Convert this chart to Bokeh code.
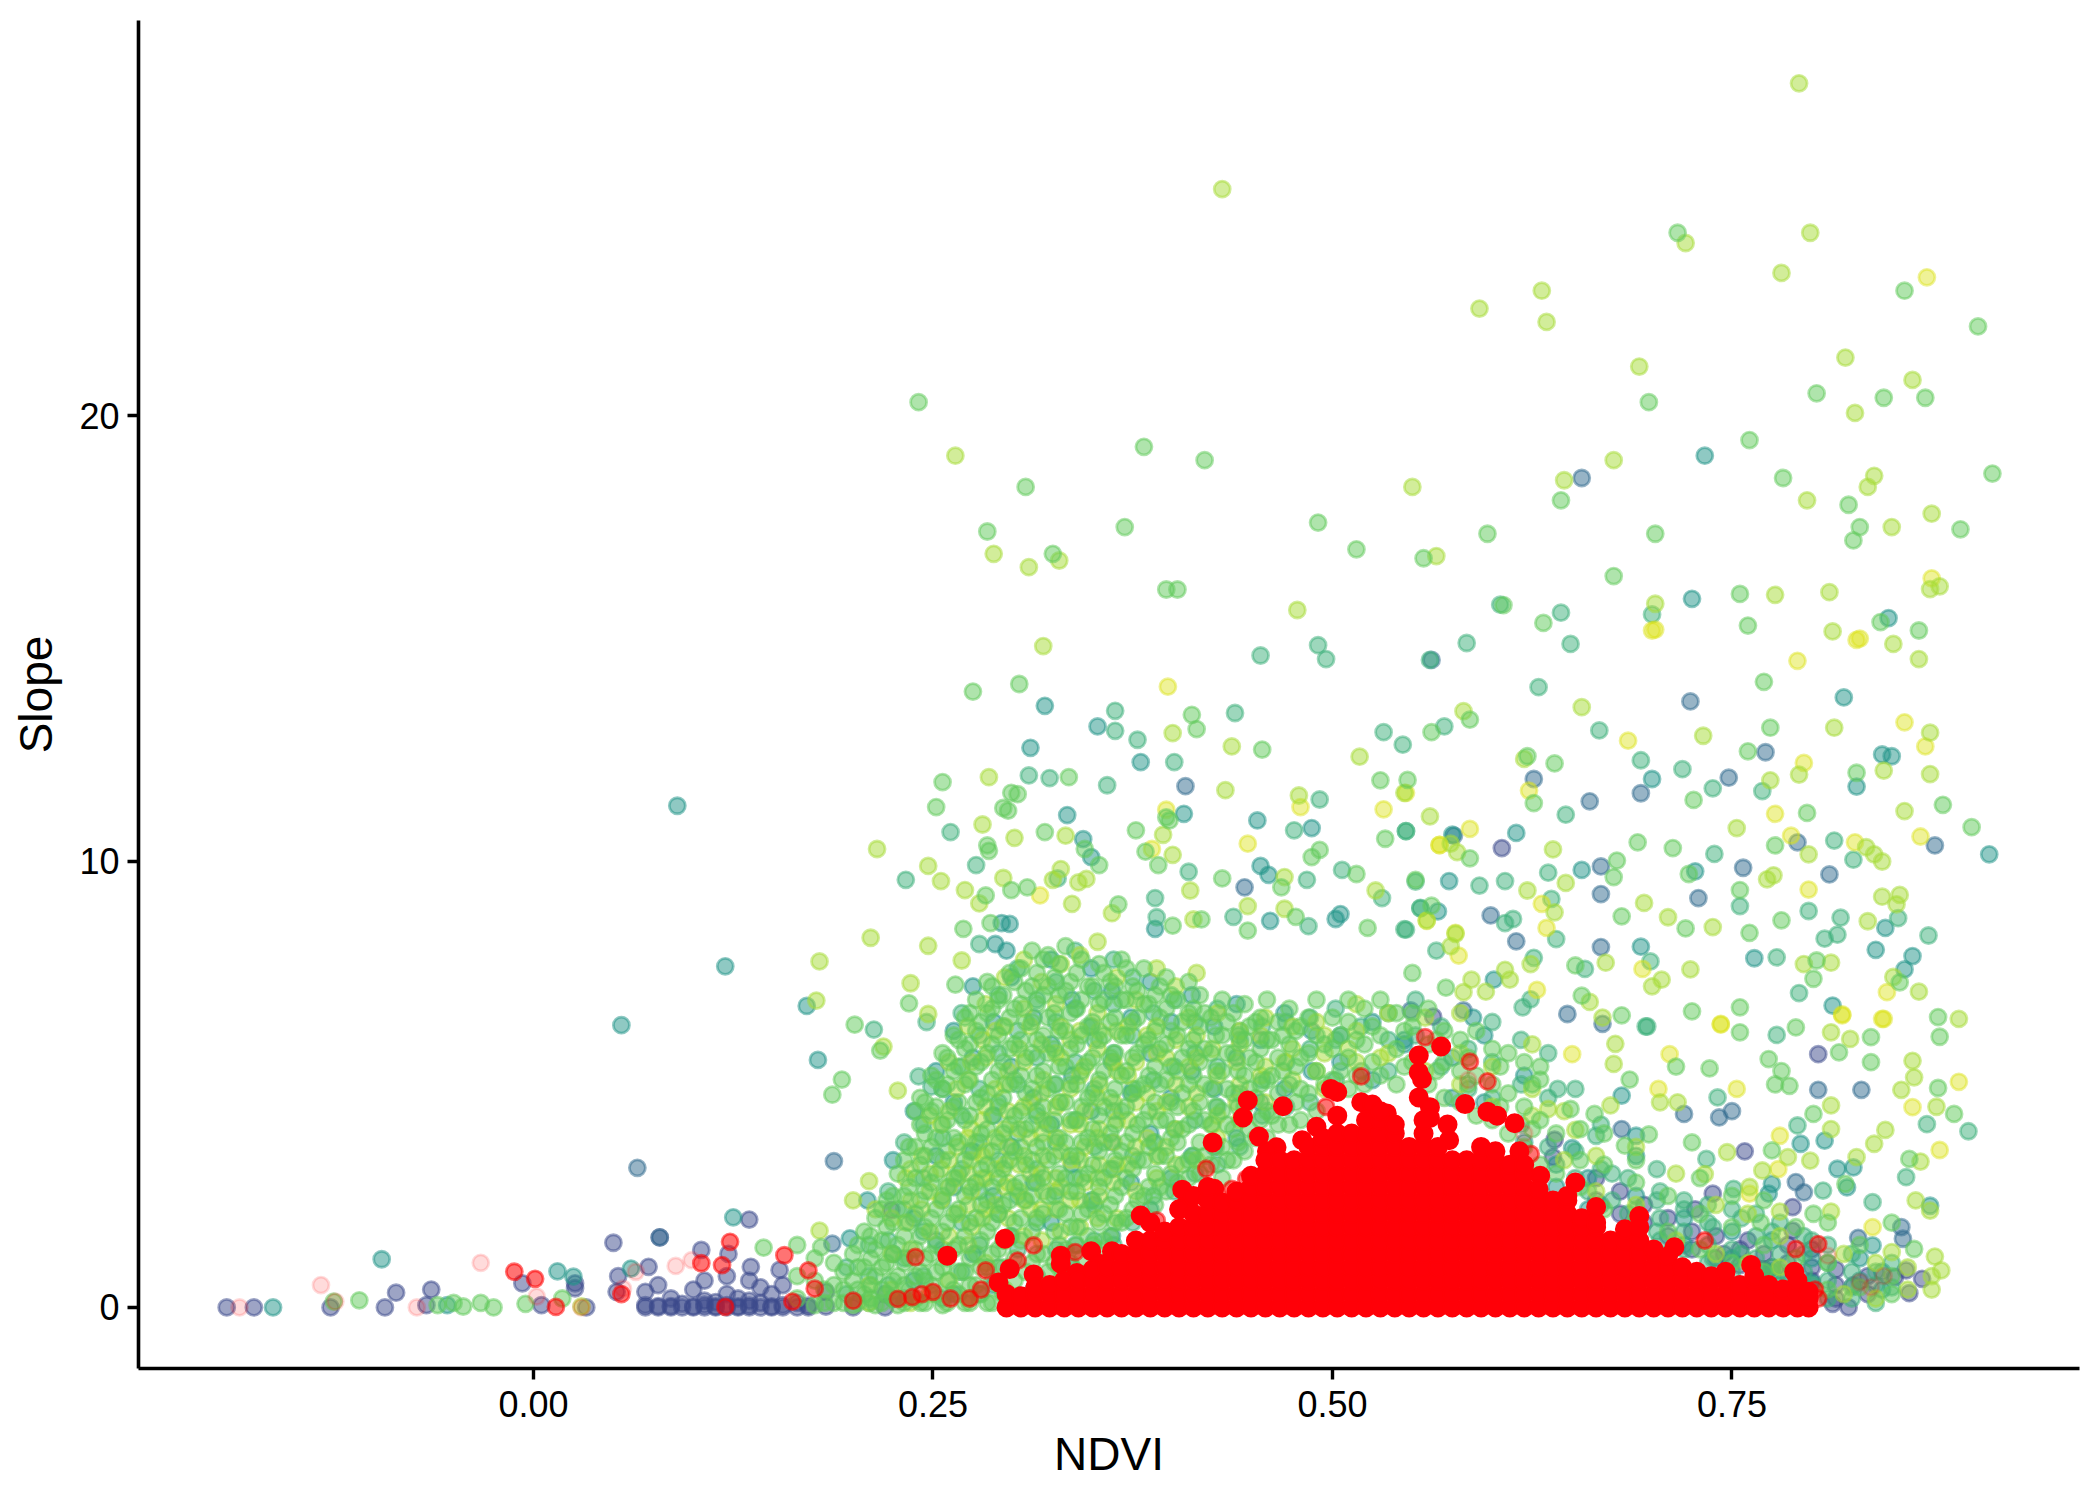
from bokeh.plotting import figure
from bokeh.models import FixedTicker, Range1d
from bokeh.embed import file_html
from bokeh.resources import INLINE

x_tick_values = [0.0, 0.25, 0.5, 0.75]
x_tick_labels = ["0.00", "0.25", "0.50", "0.75"]
y_tick_values = [0, 10, 20]
y_tick_labels = ["0", "10", "20"]

navy_points = [(-.192,0),(-.175,0),(-.127,0),(-.093,0),(-.086,.33),(-.067,.05),(-.064,.4),(-.007,.54),(.005,.05),
(.026,.54),(.026,.43),(.033,0),(.052,.35),(.053,.7),(.05,1.45),(.072,.91),(.079,1.57),(.105,1.29),(.122,1.2),(.135,1.97),(.136,.91),(.154,.84),(.224,2.18),
(.606,10.3),(.563,6.52),(.639,3.76),(.638,3.37),(.758,3.5),(.804,5.68),(.788,2.25),(.738,2.55),(.727,2.2),(.788,1.72),
(.869,.64),(.859,.83),(.852,.68),(.861,.32),(.823,0),(.813,.08),(.826,.5),(.76,1.5),(.775,.9),(.745,1.2)]
slate_points = [(.065,3.13),(.079,1.57),(.188,3.28),(.187,1.43),(.656,18.6),(.408,11.69),(.445,9.42),(.562,14.52),(.724,13.59),(.771,12.45),(.693,11.53),(.748,11.88),
(.661,11.35),(.791,10.43),(.877,10.36),(.668,9.89),(.668,9.27),(.757,9.86),(.811,9.71),(.729,9.18),(.599,8.79),(.615,8.21),(.668,8.08),(.549,6.66),(.582,6.66),(.669,6.36),(.647,6.58),(.576,10.58),(.626,11.85),
(.804,4.88),(.72,4.34),(.742,4.26),(.75,4.4),(.831,4.88),(.681,4.0),(.79,2.81),(.795,2.58),(.856,1.8),(.857,1.54),(.829,1.56)]
teal_points = [(-.163,0),(-.095,1.08),(-.054,.05),(.015,.81),(.025,.69),(.061,.87),(.125,2.02),(.198,1.55),(.09,11.25),(.12,7.65),(.055,6.33),(.209,2.4),(.178,5.55),(.171,6.76),
(.733,19.1),(.32,13.49),(.353,13.03),(.311,12.55),(.38,12.23),(.334,11.04),(.407,11.07),(.453,10.92),(.344,10.5),(.487,10.75),(.575,10.6),(.349,10.1),(.455,9.9),(.46,9.7),(.505,8.82),(.502,8.71),(.461,8.67),(.389,8.49),(.296,8.0),(.289,8.15),(.298,8.6),(.293,8.62),
(.725,15.89),(.848,15.46),(.82,13.68),(.844,12.4),(.85,12.36),(.7,11.85),(.828,11.68),(.615,10.64),(.911,10.16),(.573,9.56),(.656,9.81),(.727,9.78),(.566,8.88),(.846,8.51),(.693,8.09),(.764,7.83),(.84,8.02),(.863,7.88),(.858,7.58),(.813,6.77),(.601,7.35),(.588,6.5),(.681,4.75),(.69,3.85),(.69,3.4),(.65,3.57),(.808,3.74),(.793,3.67),(.775,2.77),(.773,2.55),(.816,3.11),(.826,3.14),(.822,2.69),(.874,2.28),(.838,1.39)]
sea_points = [(.491,14.85),(.496,14.54),(.455,14.62),(.561,14.52),(.605,15.76),(.643,15.58),(.584,14.9),(.649,14.88),(.7,15.54),(.629,13.91),(.364,13.38),(.364,12.93),(.439,13.33),(.378,12.73),(.532,12.9),(.544,12.62),(.57,13.03),(.401,12.23),(.31,11.93),(.323,11.87),(.359,11.71),(.492,11.39),(.261,10.66),(.476,10.7),(.546,10.68),(.277,9.92),(.328,9.62),(.41,9.77),(.484,9.59),(.506,9.81),(.233,9.59),(.531,9.18),(.555,8.96),(.389,9.18),(.39,8.75),(.279,8.15),(.438,8.76),(.485,8.55),(.545,8.48),(.213,6.23),(.241,5.18),(.249,4.95),(.246,6.4),
(.667,12.94),(.693,12.27),(.719,12.07),(.769,11.58),(.738,11.64),(.646,11.05),(.546,10.68),(.739,10.17),(.814,10.47),(.826,10.04),(.635,9.75),(.552,9.55),(.592,9.46),(.608,9.56),(.755,9.0),(.637,9.16),(.798,8.89),(.818,8.74),(.854,8.73),(.816,8.36),(.808,8.27),(.873,8.34),(.613,8.71),(.608,8.62),(.555,8.95),(.546,8.47),(.64,8.26),(.565,8.0),(.699,7.76),(.778,7.85),(.658,7.59),(.626,7.84),(.792,7.05),(.624,6.91),(.619,6.73),(.697,6.3),
(.778,6.11),(.696,6.3),(.641,4.9),(.741,4.71),(.791,4.08),(.872,4.11),(.898,3.95),(.665,3.85),(.734,3.33),(.859,2.92),(.751,2.66),(.807,2.62),(.838,2.36)]
green_points = [(.241,20.3),(.42,19.0),(.382,19.3),(.308,18.4),(.284,17.4),(.491,17.6),(.37,17.5),(.325,16.9),(.515,17.0),(.557,16.8),(.597,17.35),(.702,17.35),(.676,16.4),(.396,16.1),(.403,16.1),
(.761,19.45),(.826,17.2),(.83,17.5),(.823,18.0),(.643,18.1),(.782,18.6),(.913,18.7),(.698,20.3),(.845,20.4),(.803,20.5),(.871,20.4),(.904,22.0),(.858,22.8),(.716,24.1),(.893,17.45),(.607,15.75),(.755,16.0),
(.304,13.98),(.275,13.81),(.412,13.29),(.415,12.97),(.456,12.51),(.299,11.54),(.303,11.51),(.256,11.78),(.335,11.89),(.53,11.82),(.252,11.22),(.294,11.2),(.297,11.14),(.396,10.99),(.398,10.92),(.32,10.66),(.377,10.7),(.533,10.51),(.284,10.36),(.285,10.24),(.345,10.28),(.354,9.92),(.383,10.22),(.391,9.92),(.492,10.26),(.487,10.1),(.309,9.42),(.299,9.36),(.283,9.24),(.431,9.62),(.468,9.42),(.515,9.72),(.552,9.59),(.269,8.49),(.286,8.62),(.366,9.04),(.4,8.56),(.418,8.7),(.477,8.76),(.447,8.45),(.522,8.51),(.235,6.82),(.264,7.24),(.201,6.34),(.217,5.76),(.193,5.11),(.187,4.77),
(.632,15.35),(.76,15.29),(.77,14.03),(.867,15.18),(.843,15.37),(.562,12.9),(.586,13.18),(.774,13.0),(.622,12.36),(.639,12.2),(.76,12.47),(.828,11.99),(.547,11.83),(.626,11.31),(.726,11.38),(.797,11.09),(.882,11.27),(.9,10.77),(.586,10.07),(.691,10.43),(.713,10.3),(.777,10.36),(.678,10.02),(.676,9.65),(.723,9.72),(.755,9.36),(.681,8.77),(.721,8.5),(.562,9.01),(.781,8.68),(.761,8.4),(.652,7.67),(.55,7.5),(.571,7.17),(.803,7.78),(.801,7.37),(.855,7.29),(.656,6.99),(.681,6.55),(.725,6.64),(.755,6.73),(.879,6.51),
(.755,6.17),(.79,6.28),(.88,6.07),(.837,6.06),(.817,5.72),(.837,5.5),(.715,5.4),(.736,5.36),(.63,5.11),(.686,5.11),(.781,5.3),(.773,5.57),(.879,4.92),(.777,5.0),(.786,4.97),(.664,4.34),(.801,4.34),(.889,4.34),(.649,4.45),(.698,3.88),(.725,3.7),(.775,3.52),(.683,3.63),(.861,3.33),(.821,2.77),(.864,1.31),(.801,2.1),(.768,1.9),(.85,1.9),
(-.125,.13),(-.109,.16),(-.06,.05),(-.05,.1),(-.044,.02),(-.033,.1),(-.025,0),(-.005,.08),(.018,.2),(.144,1.34),(.165,1.4),(.18,1.35)]
lime_points = [(.792,27.45),(.431,25.08),(.799,24.1),(.721,23.87),(.781,23.2),(.631,22.8),(.592,22.4),(.634,22.1),(.821,21.3),(.692,21.1),(.863,20.8),(.827,20.06),(.264,19.1),(.676,19.0),(.645,18.55),(.839,18.65),(.835,18.4),(.55,18.4),(.797,18.1),(.85,17.5),(.875,17.8),(.288,16.9),(.329,16.75),(.31,16.6),(.565,16.85),
(.319,14.83),(.478,15.64),(.4,12.88),(.437,12.58),(.517,12.35),(.285,11.89),(.433,11.6),(.545,11.54),(.479,11.48),(.281,10.83),(.301,10.53),(.333,10.58),(.394,10.6),(.215,10.28),(.4,10.15),(.247,9.9),(.33,9.83),(.325,9.59),(.341,9.53),(.346,9.61),(.255,9.56),(.294,9.63),(.27,9.36),(.279,9.06),(.411,9.35),(.47,9.65),(.527,9.35),(.447,9.0),(.362,8.84),(.413,8.7),(.47,8.94),(.337,9.05),(.211,8.29),(.247,8.11),(.179,7.76),(.268,7.78),(.236,7.27),(.177,6.88),(.247,6.58),(.219,5.85),(.228,4.86),
(.702,15.78),(.777,15.98),(.811,16.04),(.874,16.11),(.88,16.17),(.813,15.16),(.851,14.88),(.867,14.54),(.656,13.46),(.582,13.37),(.732,12.82),(.814,13.0),(.874,12.89),(.62,12.3),(.792,11.95),(.774,11.82),(.845,12.04),(.874,11.96),(.561,11.01),(.753,10.75),(.858,11.13),(.574,10.4),(.578,10.21),(.638,10.27),(.798,10.16),(.834,10.32),(.839,10.16),(.844,10.0),(.646,9.52),(.772,9.6),(.776,9.69),(.622,9.35),(.639,8.86),(.695,9.07),(.71,8.75),(.738,8.53),(.844,9.21),(.855,9.25),(.853,9.04),(.835,8.66),(.559,8.68),(.577,8.38),(.574,8.1),(.795,7.7),(.812,7.73),(.671,7.73),(.624,7.7),(.608,7.57),(.611,7.35),(.587,7.35),(.582,7.07),(.596,7.08),(.706,7.35),(.7,7.2),(.724,7.58),(.851,7.41),(.867,7.08),(.892,6.47),(.661,6.85),(.669,6.5),
(.812,6.17),(.824,6.02),(.677,5.91),(.863,5.53),(.676,5.46),(.864,5.16),(.856,4.88),(.705,4.6),(.716,4.6),(.674,4.53),(.812,4.53),(.635,4.45),(.878,4.5),(.812,4.0),(.846,3.98),(.839,3.67),(.652,3.98),(.799,3.29),(.785,3.37),(.828,3.37),(.868,3.27),(.747,3.48),(.733,2.99),(.769,3.07),(.761,2.7),(.865,2.4),(.874,2.17),(.85,1.24),(.877,1.14),(.881,.83),(.812,2.15),(.78,2.15),
(.179,1.72),(.2,2.4),(.21,2.83),(.214,2.2),(.03,.02)]
yellow_points = [(.872,23.1),(.875,16.35),(.702,15.2),(.7,15.18),(.83,15.0),(.397,13.92),(.48,11.22),(.532,11.17),(.396,11.16),(.447,10.4),(.387,10.28),(.567,10.37),(.317,9.24),(.559,8.67),(.577,8.4),
(.828,14.97),(.791,14.5),(.858,13.12),(.871,12.58),(.685,12.71),(.795,12.21),(.546,11.54),(.623,11.59),(.777,11.07),(.586,10.73),(.567,10.37),(.868,10.56),(.787,10.58),(.827,10.43),(.798,9.37),(.631,9.05),(.634,8.51),(.579,7.89),(.694,7.59),(.847,7.07),(.628,7.12),(.819,6.55),(.844,6.47),(.743,6.36),
(.743,6.34),(.819,6.57),(.845,6.47),(.65,5.68),(.711,5.68),(.892,5.06),(.704,4.9),(.753,4.9),(.863,4.49),(.78,3.85),(.88,3.53),(.779,3.1),(.761,2.55),(.838,1.8)]

navy_columns = [(.07,[0,.05,.35]),(.078,[0,.03,.5]),(.086,[0,.03,.2]),(.093,[0,.08]),(.1,[0,.02,.4]),(.107,[0,.06,.15,.6]),(.114,[0,.02,.12]),(.121,[0,.05,.3,.7]),(.128,[0,.02,.2]),(.135,[0,.04,.15,.6]),(.142,[0,.1,.45]),(.149,[0,.02,.3]),(.156,[0,.05,.5]),(.165,[0,.1]),(.172,[0,.04]),(.183,[.02,.35]),(.2,[0]),(.22,[0,.3]),
(.665,[2.4,2.9]),(.68,[2.1,2.6]),(.695,[1.9,2.3]),(.71,[1.6,2.0]),(.725,[1.3,1.7]),(.74,[1.1,1.6]),(.755,[.95,1.3]),(.77,[.85,1.2]),(.785,[.7,1.0,1.4]),(.8,[.6,.9,1.3]),(.815,[.2,.5,.85]),(.835,[.3,.7])]
teal_columns = [(.225,[.2,1.2,3.3]),(.238,[.6,2.0,4.4]),(.252,[1.5,3.4,5.3]),(.263,[.3,2.7,4.6,6.2]),(.275,[1.2,3.5,5.6,7.2]),(.288,[.5,2.5,4.3,6.4]),(.299,[1.6,3.6,5.4,7.4]),(.313,[.4,2.8,4.7,6.5]),(.324,[1.9,4.1,5.9,7.8]),(.337,[.9,3.2,5.2,6.9]),(.349,[2.4,4.4,6.3,7.6]),(.362,[1.6,3.7,5.5,7.1]),(.374,[2.8,4.8,6.5]),(.386,[2.2,3.9,5.7,7.3]),(.399,[2.9,4.7,6.4]),(.412,[3.4,5.3,7.0]),(.426,[3.6,4.9,6.3]),(.44,[3.8,5.6,6.8]),(.455,[4.6,6.0]),(.47,[4.9,6.6]),(.487,[5.3,6.2]),(.505,[5.5,6.1]),(.525,[5.1,6.4]),(.545,[6.0,5.9]),(.575,[4.7,5.6]),(.595,[4.6,6.1]),(.62,[3.7,5.2]),(.64,[2.7,3.2]),(.66,[2.2,2.9]),(.69,[2.5,1.9]),(.72,[1.4,2.0]),(.75,[1.1,1.7]),(.775,[.8,1.5]),(.8,[.55,1.1]),(.83,[.6,1.1]),(.844,[.4,.8])]
sea_columns = [(.196,[.3,.9]),(.21,[.1,.7,1.4]),(.222,[.5,1.5,2.6]),(.232,[.2,1.1,2.2,3.7]),(.244,[.7,1.7,2.9,4.1]),(.256,[.2,1.3,2.4,3.8,4.9]),(.268,[.8,1.9,3.1,4.3,5.4,6.6]),(.279,[.3,1.4,2.6,3.7,4.9,6.1]),(.291,[.9,2.1,3.3,4.6,5.7,7.0]),(.303,[.2,1.3,2.5,3.9,5.0,6.2,7.6]),(.315,[.7,1.9,3.1,4.3,5.6,6.9]),(.327,[.2,1.3,2.6,3.7,5.0,6.4,7.3]),(.339,[1.4,2.9,4.2,5.5,6.7,8.0]),(.351,[1.5,2.3,3.6,4.9,6.0,7.1]),(.363,[1.4,3.1,4.4,5.7,6.8,7.8]),(.375,[1.9,3.4,4.9,6.1,7.4]),(.388,[2.5,3.7,5.1,6.6]),(.401,[2.6,4.0,5.4,6.9]),(.414,[3.0,4.2,5.7,6.4]),(.428,[3.2,4.5,5.4,6.7]),(.442,[3.6,4.8,6.0,6.2]),(.456,[4.3,5.1,6.3]),(.471,[4.5,5.5,6.4]),(.486,[4.6,5.8,6.5]),(.502,[5.1,6.0,6.7]),(.518,[5.3,6.3]),(.535,[5.3,6.0,6.6]),(.552,[6.1,6.9]),(.568,[5.4,6.3]),(.585,[4.9,5.8]),(.6,[4.7,5.5,6.4]),(.618,[4.1,5.0,6.0]),(.635,[3.6,4.7,5.7]),(.652,[2.9,3.5,4.9]),(.668,[2.3,3.1,4.1]),(.685,[2.1,2.9]),(.703,[1.7,2.4,3.1]),(.72,[1.3,2.2]),(.738,[1.1,1.8]),(.756,[1.2,2.0]),(.775,[.9,1.7]),(.8,[.5,1.5]),(.85,[.45,1.0])]
sea_right = [(.66,[2.6]),(.675,[2.4,3.0]),(.69,[2.2]),(.705,[1.5,2.0,2.6]),(.72,[1.7,2.4]),(.735,[1.0,1.4,1.9,2.3]),(.75,[.8,1.3,2.2]),(.765,[.8,1.1,1.6,2.1]),(.78,[.5,.8,1.2,1.9]),(.795,[.5,.8,1.2,1.6]),(.81,[.2,.6,1.0,1.4]),(.825,[.2,.45,.8,1.2]),(.84,[.1,.5,.8])]
green_columns = [(.165,[.2,.7]),(.176,[.05,.6,1.1]),(.188,[.1,.5,1.0]),(.2,[.05,.6,1.2]),(.207,[.3,.9,1.7]),(.214,[.05,.7,1.3,2.0]),(.221,[.3,1.0,1.8,2.4]),(.228,[.05,.7,1.4,2.2,3.0]),(.235,[.4,1.1,1.9,2.7,3.6]),(.242,[.1,.8,1.6,2.4,3.2,4.1,4.7]),(.249,[.5,1.2,2.0,2.8,3.6,4.4,5.2]),(.256,[.05,.9,1.7,2.5,3.3,4.1,4.9,5.7]),(.263,[.4,1.3,2.1,2.9,3.8,4.5,5.3,6.1]),(.27,[.1,.8,1.6,2.5,3.3,4.2,5.0,5.8,6.5]),(.277,[.5,1.2,2.0,2.8,3.7,4.6,5.4,6.2,6.9]),(.284,[.1,.9,1.7,2.4,3.2,4.0,4.8,5.7,6.6,7.3]),(.291,[.5,1.3,2.1,2.9,3.7,4.5,5.3,6.1,6.9]),(.298,[.1,.9,1.6,2.4,3.3,4.1,5.0,5.8,6.5,7.5]),(.305,[1.5,2.0,2.8,3.6,4.4,5.2,6.0,6.8,7.6]),(.312,[1.0,1.7,2.5,3.3,4.1,4.9,5.7,6.4,7.2,8.0]),(.319,[1.2,2.1,2.9,3.7,4.5,5.3,6.1,7.0,7.8]),(.326,[1.0,1.7,2.5,3.4,4.2,5.0,5.8,6.6,7.4]),(.333,[1.3,2.1,2.9,3.7,4.6,5.4,6.2,7.1,8.1]),(.34,[1.4,1.8,2.6,3.4,4.2,5.0,5.9,6.7,7.5]),(.347,[1.6,2.2,3.0,3.8,4.7,5.5,6.3,7.2]),(.354,[1.3,1.9,2.7,3.5,4.3,5.1,6.0,6.8,7.7]),(.361,[1.6,2.3,3.1,3.9,4.7,5.6,6.4,7.3]),(.368,[1.9,2.7,3.5,4.4,5.2,6.1,6.9,7.8]),(.375,[2.2,3.1,3.9,4.8,5.6,6.4,7.2]),(.382,[2.5,3.3,4.2,5.0,5.9,6.8,7.6]),(.389,[2.3,3.0,3.7,4.6,5.4,6.2,7.0]),(.396,[2.6,3.4,4.2,5.1,5.9,6.7,7.4]),(.403,[2.8,3.7,4.5,5.3,6.1,6.9]),(.41,[2.9,3.3,4.1,5.0,5.8,6.6,7.3]),(.417,[3.0,3.7,4.6,5.5,6.3,7.0]),(.424,[3.2,4.1,4.9,5.7,6.5]),(.431,[2.9,3.6,4.4,5.3,6.1,6.9]),(.438,[3.3,4.0,4.8,5.7,6.6]),(.445,[3.5,4.5,5.2,6.0,6.8]),(.452,[3.8,4.7,5.5,6.4]),(.459,[3.8,4.4,5.1,6.0,6.9]),(.466,[4.1,4.8,5.6,6.4]),(.473,[4.1,5.0,5.9,6.7]),(.48,[4.2,4.9,5.6,6.3]),(.49,[4.4,5.3,6.1,6.9]),(.5,[5.1,5.8,6.5]),(.51,[4.9,5.6,6.4,6.9]),(.52,[5.0,5.9,6.7]),(.53,[5.2,6.1,6.9]),(.54,[5.0,5.8,6.6]),(.55,[5.5,6.3,6.6]),(.56,[5.0,5.9,6.7]),(.57,[4.7,5.5,6.2]),(.58,[4.6,5.3,6.0]),(.59,[4.3,5.2,6.2]),(.6,[4.2,5.0,5.8]),(.61,[3.9,4.8,5.7]),(.62,[3.6,4.5,5.5]),(.63,[3.2,4.2,5.4]),(.64,[3.0,3.9]),(.655,[2.7,3.3,4.0]),(.67,[2.2,3.2,3.9]),(.69,[2.0,2.8,3.3]),(.71,[1.7,2.5]),(.73,[1.3,2.1,2.9]),(.75,[1.0,1.8,2.5]),(.77,[.8,1.4,2.4]),(.79,[.6,1.1,1.8]),(.81,[.4,1.0,1.9]),(.83,[.45,1.4]),(.85,[.3,.7])]
green_fill = [(.182,[.1,.4]),(.194,[.1,.4,.8]),(.203,[.1,.4,.9,1.4]),(.211,[.2,.5,1.1,1.6]),(.218,[.1,.4,.9,1.5,2.2]),(.225,[.2,.6,1.2,1.9,2.5]),(.232,[.1,.5,1.0,1.6,2.5,3.3]),(.239,[.2,.7,1.3,2.1,2.9,3.6,4.4]),(.245,[.1,.6,1.1,1.8,2.6,3.4,3.9,4.6]),(.252,[.3,.8,1.4,2.2,3.0,3.8,4.5,5.1]),(.259,[.1,.6,1.1,1.9,2.7,3.5,4.2,5.0,5.6]),(.266,[.3,.8,1.4,2.2,3.0,3.7,4.6,5.4,6.0]),(.273,[.1,.5,1.1,1.9,2.7,3.5,4.3,5.1,5.9,6.6]),(.28,[.3,.9,1.5,2.3,3.1,3.9,4.7,5.5,6.4]),(.287,[.1,.6,1.2,1.9,2.7,3.5,4.3,5.1,5.9,6.7,7.2]),(.294,[.3,.9,1.5,2.3,3.1,3.9,4.7,5.5,6.3,7.0]),(.301,[.6,1.1,1.9,2.7,3.5,4.3,5.1,5.9,6.7,7.3]),(.308,[.8,2.4,3.2,4.0,4.8,5.6,6.4,7.1]),(.315,[1.2,2.0,2.8,3.6,4.4,5.2,6.0,6.8,7.5]),(.322,[.8,2.5,3.3,4.1,4.9,5.7,6.5,7.2,7.9]),(.329,[.9,1.4,2.2,3.0,3.8,4.6,5.4,6.2,7.0,7.7]),(.336,[1.0,1.8,2.6,3.4,4.2,5.0,5.8,6.6,7.3]),(.343,[1.1,2.1,2.9,3.7,4.5,5.3,6.1,6.9,7.8]),(.35,[1.4,2.4,3.2,4.0,4.8,5.6,6.4,7.2]),(.357,[1.5,2.1,2.9,3.7,4.5,5.3,6.1,6.9,7.5]),(.364,[1.9,2.5,3.3,4.1,4.9,5.7,6.5,7.2]),(.371,[2.0,2.9,3.7,4.5,5.3,6.1,6.9,7.6]),(.378,[2.4,3.3,4.1,4.9,5.7,6.5,7.1]),(.385,[2.7,3.6,4.4,5.2,6.0,6.8]),(.392,[2.7,3.4,4.2,5.0,5.8,6.5,7.2]),(.399,[3.0,3.8,4.6,5.4,6.2,7.0]),(.406,[3.2,4.0,4.8,5.6,6.4]),(.413,[3.4,4.4,5.2,6.0,6.7]),(.42,[3.4,4.2,5.0,5.8,6.6]),(.427,[3.6,4.5,5.3,6.1]),(.434,[3.3,4.1,4.9,5.7,6.4]),(.441,[3.7,4.5,5.3,6.1]),(.448,[4.0,4.9,5.6,6.3]),(.455,[4.2,5.0,5.8,6.5]),(.462,[4.3,5.2,6.0]),(.469,[4.5,5.3,6.1]),(.477,[4.6,5.4,6.2]),(.485,[4.8,5.7,6.5]),(.495,[5.0,5.9]),(.505,[5.3,6.1]),(.515,[5.2,6.0]),(.525,[5.5,6.3]),(.545,[5.4,6.2]),(.565,[5.3,6.0]),(.585,[5.0,5.6]),(.605,[4.5,5.4]),(.625,[4.0,5.0])]
lime_columns = [(.21,[.1,.5]),(.224,[.4,1.2,2.0]),(.236,[.1,1.3,2.4,3.1]),(.248,[.3,1.7,2.6,3.0,4.3]),(.26,[.6,1.6,2.7,3.3,4.4,5.5]),(.272,[.2,1.4,2.3,3.0,3.8,5.1,6.3]),(.283,[1.0,2.2,2.9,3.5,4.5,5.6,6.8]),(.295,[.4,1.5,2.7,3.2,4.0,5.0,6.3,7.4]),(.307,[1.6,2.4,3.4,4.5,5.5,6.7,7.8]),(.318,[1.5,2.2,3.0,3.9,4.8,5.9,7.3]),(.33,[1.7,2.7,3.5,4.6,5.6,6.3,7.7]),(.342,[1.8,2.4,3.3,4.1,5.2,6.2,7.9]),(.353,[2.0,2.9,3.8,4.7,5.8,6.6,8.2]),(.365,[2.0,3.2,4.2,5.3,6.2,7.4]),(.377,[2.6,3.6,4.6,5.5,6.9]),(.39,[2.9,3.4,4.4,5.7,6.3,7.6]),(.402,[3.2,4.0,5.0,6.0,7.2]),(.415,[3.3,4.8,5.6,6.1,7.5]),(.428,[3.8,4.3,5.2,6.6]),(.442,[4.2,5.0,5.9,6.2]),(.458,[4.6,5.4,6.5]),(.475,[5.1,5.8,6.3]),(.495,[4.9,5.7,6.1]),(.515,[5.5,6.2,6.8]),(.535,[5.7,6.6]),(.558,[5.3,6.5]),(.58,[5.0,5.7,6.6]),(.6,[4.5,5.4]),(.625,[4.3,4.9,5.9]),(.645,[3.3,4.4]),(.665,[2.6,3.4]),(.69,[2.3,3.6]),(.715,[1.5,3.0]),(.74,[1.2,2.3]),(.76,[1.0,2.1]),(.78,[.9,1.6]),(.82,[.3,1.2]),(.84,[.2,1.0]),(.86,[.4,.9]),(.875,[.4,.7])]
lime_fill = [(.233,[1.9,2.9]),(.243,[2.2,3.4]),(.255,[2.4,3.1,4.1]),(.265,[2.1,2.9,3.6,4.9]),(.274,[1.8,2.6,3.3,4.0,5.5]),(.281,[2.0,2.9,3.4,4.2,6.0]),(.289,[2.3,3.1,3.8,4.9,6.2]),(.297,[2.0,2.8,3.6,4.4,5.3]),(.304,[2.6,3.2,4.0,5.8]),(.311,[2.2,3.0,3.8,4.6,6.3]),(.319,[2.6,3.4,4.2,5.1]),(.327,[2.2,2.9,3.8,4.5,5.7,6.8]),(.336,[2.4,3.3,4.1,4.9,6.0]),(.345,[2.8,3.6,4.4,5.4]),(.354,[2.5,3.2,4.0,5.0,6.2]),(.363,[2.8,3.7,4.6,5.5]),(.372,[3.2,4.2,5.2,6.3]),(.384,[3.8,4.8,6.1]),(.396,[3.6,4.6,5.6]),(.41,[4.5,5.4,6.5]),(.425,[4.1,5.8]),(.44,[4.6,5.5]),(.455,[5.2,6.1]),(.47,[5.5]),(.49,[5.3,6.4]),(.51,[5.8]),(.53,[5.6])]

red_faint_points = [(-.184,0),(-.133,.5),(-.124,.13),(-.073,0),(-.033,1.0),(.002,.24),(.03,0),(.056,.42),(.064,.8),(.099,1.06),(.089,.93),(.81,1.16),(.837,.45),(.83,.57),(.845,.7),(.62,3.9),(.585,5.1)]
red_soft_points = [(-.012,.8),(.001,.64),(.014,.01),(.055,.3),(.105,.99),(.118,.95),(.12,.01),(.123,1.47),(.157,1.17),(.162,.13),(.172,.83),(.176,.42),(.2,.15),(.228,.19),(.239,1.13),(.237,.23),(.243,.3),(.25,.35),(.261,.2),(.283,.83),(.313,1.39),(.303,1.05),(.339,1.24),(.421,3.11),(.39,1.95),(.446,2.88),(.437,2.66),(.558,6.06),(.586,5.51),(.597,5.07),(.518,5.18),(.496,4.5),(.733,1.5),(.79,1.31),(.804,1.42),(.624,3.44),(.802,.4),(.804,.2),(.273,.2),(.28,.4)]
red_solid_points = [(.554,5.65),(.554,5.27),(.556,5.12),(.554,4.71),(.561,4.49),(.503,4.83),(.499,4.9),(.518,4.6),(.447,4.64),(.444,4.26),(.469,4.51),(.454,3.83),(.425,3.7),(.583,4.56),(.597,4.39),(.614,4.13),(.568,5.85),(.406,2.64),(.407,2.25),(.38,2.06),(.259,1.16),(.295,1.54),(.298,.86),(.313,.74),(.33,1.16),(.33,.98),(.349,1.26),(.34,.77),(.291,.56),(.362,1.26),(.354,.98),(.465,3.59),(.426,2.66),(.603,4.3),
(.459,3.5),(.481,3.75),(.525,4.55),(.561,4.25),(.573,3.75),(.617,3.5),(.63,2.95),(.652,2.8),(.665,2.25),(.692,2.05),(.714,1.35),(.762,.95),(.789,.8),(.572,4.1),(.534,4.35),(.49,4.05)]
red_columns = [(.296,[0,.3]),(.305,[0,.25]),(.314,[0,.3,.45]),(.323,[0,.3,.5]),(.332,[0,.3,.6]),(.341,[0,.3,.6]),(.35,[0,.3,.6,.85]),(.359,[0,.3,.6,.9]),(.368,[0,.3,.6,.9,1.2]),(.377,[0,.3,.6,.9,1.2,1.5]),(.386,[0,.3,.6,.9,1.2,1.5,1.9]),(.395,[0,.3,.6,.9,1.2,1.5,1.7]),(.404,[0,.3,.6,.9,1.2,1.5,1.8,2.2]),(.413,[0,.3,.6,.9,1.2,1.5,1.8,2.1,2.5]),(.422,[0,.3,.6,.9,1.2,1.5,1.8,2.1,2.4,2.7]),(.431,[0,.3,.6,.9,1.2,1.5,1.8,2.1,2.35]),(.44,[0,.3,.6,.9,1.2,1.5,1.8,2.1,2.4,2.6]),(.449,[0,.3,.6,.9,1.2,1.5,1.8,2.1,2.4,2.7,2.95]),(.458,[0,.3,.6,.9,1.2,1.5,1.8,2.1,2.4,2.7,3.0,3.3]),(.467,[0,.3,.6,.9,1.2,1.5,1.8,2.1,2.4,2.7,3.0,3.3]),(.476,[0,.3,.6,.9,1.2,1.5,1.8,2.1,2.4,2.7,3.0,3.3]),(.485,[0,.3,.6,.9,1.2,1.5,1.8,2.1,2.4,2.7,3.0,3.3,3.6]),(.494,[0,.3,.6,.9,1.2,1.5,1.8,2.1,2.4,2.7,3.0,3.3,3.6,3.8]),(.503,[0,.3,.6,.9,1.2,1.5,1.8,2.1,2.4,2.7,3.0,3.3,3.6,3.9,4.3]),(.512,[0,.3,.6,.9,1.2,1.5,1.8,2.1,2.4,2.7,3.0,3.3,3.6,3.9]),(.521,[0,.3,.6,.9,1.2,1.5,1.8,2.1,2.4,2.7,3.0,3.3,3.6,3.9,4.2]),(.53,[0,.3,.6,.9,1.2,1.5,1.8,2.1,2.4,2.7,3.0,3.3,3.6,3.9,4.2,4.4]),(.539,[0,.3,.6,.9,1.2,1.5,1.8,2.1,2.4,2.7,3.0,3.3,3.6,3.9,4.1]),(.548,[0,.3,.6,.9,1.2,1.5,1.8,2.1,2.4,2.7,3.0,3.3,3.6]),(.557,[0,.3,.6,.9,1.2,1.5,1.8,2.1,2.4,2.7,3.0,3.3,3.6,3.9,4.2]),(.566,[0,.3,.6,.9,1.2,1.5,1.8,2.1,2.4,2.7,3.0,3.3,3.6]),(.575,[0,.3,.6,.9,1.2,1.5,1.8,2.1,2.4,2.7,3.0,3.3]),(.584,[0,.3,.6,.9,1.2,1.5,1.8,2.1,2.4,2.7,3.0,3.3]),(.593,[0,.3,.6,.9,1.2,1.5,1.8,2.1,2.4,2.7,3.0,3.3,3.6]),(.602,[0,.3,.6,.9,1.2,1.5,1.8,2.1,2.4,2.7,3.0,3.3,3.5]),(.611,[0,.3,.6,.9,1.2,1.5,1.8,2.1,2.4,2.7,3.0,3.2]),(.62,[0,.3,.6,.9,1.2,1.5,1.8,2.1,2.4,2.7,3.0,3.2]),(.629,[0,.3,.6,.9,1.2,1.5,1.8,2.1,2.4,2.65]),(.638,[0,.3,.6,.9,1.2,1.5,1.8,2.1,2.4]),(.647,[0,.3,.6,.9,1.2,1.5,1.8,2.1,2.4,2.5]),(.656,[0,.3,.6,.9,1.2,1.5,1.8,2.0]),(.665,[0,.3,.6,.9,1.2,1.5,1.8,1.9]),(.674,[0,.3,.6,.9,1.2,1.5]),(.683,[0,.3,.6,.9,1.2,1.5,1.75]),(.692,[0,.3,.6,.9,1.2,1.5,1.8]),(.701,[0,.3,.6,.9,1.2,1.3]),(.71,[0,.3,.6,.9,1.15]),(.719,[0,.3,.6,.9]),(.728,[0,.3,.6,.8]),(.737,[0,.3,.6,.7]),(.746,[0,.3,.6,.8]),(.755,[0,.3,.5]),(.764,[0,.3,.6,.7]),(.773,[0,.3,.5]),(.782,[0,.25,.4]),(.791,[0,.3,.6]),(.798,[0,.2,.35])]

axis_x_label = "NDVI"
axis_y_label = "Slope"


def expand(columns):
    return [(x, y) for x, ys in columns for y in ys]


layers = [
    (navy_points + expand(navy_columns), "#3b4a8c", 0.5, 16, 2.8),
    (slate_points, "#2f6a8e", 0.5, 16, 2.8),
    (teal_points + expand(teal_columns), "#1f9488", 0.5, 16, 2.8),
    (sea_points + expand(sea_columns) + expand(sea_right), "#3bb07a", 0.5, 16, 2.8),
    (yellow_points, "#dce319", 0.45, 16, 2.8),
    (lime_points + expand(lime_columns) + expand(lime_fill), "#a6db35", 0.5, 16, 2.8),
    (green_points + expand(green_columns) + expand(green_fill), "#5fc95a", 0.5, 16, 2.8),
    (red_faint_points, "#ff0000", 0.14, 16, 2.8),
    (red_soft_points, "#ff0000", 0.55, 16, 2.8),
    (red_solid_points + expand(red_columns), "#ff0008", 1.0, 18, 2.0),
]

p = figure(width=2084, height=1484, output_backend="svg", toolbar_location=None,
           x_range=Range1d(-0.2472, 0.9675), y_range=Range1d(-1.37, 28.86),
           min_border_left=138, min_border_right=5, min_border_top=20, min_border_bottom=116,
           x_axis_label=axis_x_label, y_axis_label=axis_y_label)

for pts, colour, alpha, size, stroke in layers:
    p.scatter([a for a, _ in pts], [b for _, b in pts], size=size, line_width=stroke,
              fill_color=colour, line_color=colour, fill_alpha=alpha, line_alpha=alpha)

p.grid.visible = False
p.outline_line_color = None
p.background_fill_color = "white"
p.border_fill_color = "white"

p.xaxis.ticker = FixedTicker(ticks=x_tick_values)
p.yaxis.ticker = FixedTicker(ticks=y_tick_values)
p.xaxis.major_label_overrides = dict(zip(x_tick_values, x_tick_labels))
p.yaxis.major_label_overrides = dict(zip(y_tick_values, y_tick_labels))

for ax in (p.xaxis[0], p.yaxis[0]):
    ax.axis_line_color = "black"
    ax.axis_line_width = 3.6
    ax.major_tick_line_color = "black"
    ax.major_tick_line_width = 3.4
    ax.major_tick_out = 11
    ax.major_tick_in = 0
    ax.minor_tick_line_color = None
    ax.major_label_text_font = "Liberation Sans"
    ax.major_label_text_font_size = "36px"
    ax.major_label_text_color = "black"
    ax.axis_label_text_font = "Liberation Sans"
    ax.axis_label_text_font_size = "46px"
    ax.axis_label_text_font_style = "normal"
    ax.axis_label_text_color = "black"

p.xaxis[0].major_label_standoff = 11
p.xaxis[0].axis_label_standoff = 8
p.yaxis[0].major_label_standoff = 8
p.yaxis[0].axis_label_standoff = 14

open("out.html", "w").write(file_html(p, INLINE))
